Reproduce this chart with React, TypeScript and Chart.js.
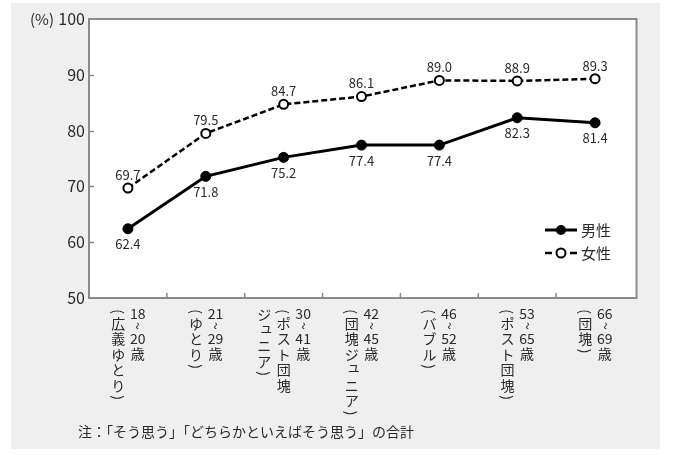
import React, { useEffect, useRef } from "react";
import { Chart, registerables } from "chart.js";

Chart.register(...registerables);

// ---- data ----
const ageLabels = ["18～20歳", "21～29歳", "30～41歳", "42～45歳", "46～52歳", "53～65歳", "66～69歳"];
const generationLabels = [
  ["（広義ゆとり）"],
  ["（ゆとり）"],
  ["（ポスト団塊", "ジュニア）"],
  ["（団塊ジュニア）"],
  ["（バブル）"],
  ["（ポスト団塊）"],
  ["（団塊）"],
];
const maleValues = [62.4, 71.8, 75.2, 77.4, 77.4, 82.3, 81.4];
const femaleValues = [69.7, 79.5, 84.7, 86.1, 89.0, 88.9, 89.3];
const seriesNames = ["男性", "女性"];
const yMin = 50;
const yMax = 100;
const yStep = 10;
const unitLabel = "(%)";
const footnote = "注：「そう思う」「どちらかといえばそう思う」の合計";

const FONT = "'Noto Sans CJK JP', 'Noto Sans', sans-serif";
const TEXT = "#2a2a2a";
const AXIS = "#8a8a8a";

const SMALL_KANA = "ァィゥェォャュョッぁぃぅぇぉゃゅょっ";

function drawVerticalColumn(ctx: CanvasRenderingContext2D, text: string, cx: number, top: number) {
  let y = top;
  const tokens = text.match(/[0-9]+|./gu) || [];
  ctx.save();
  ctx.fillStyle = TEXT;
  ctx.font = `14px ${FONT}`;
  ctx.textAlign = "center";
  ctx.textBaseline = "middle";
  for (const t of tokens) {
    if (/^[0-9]+$/.test(t)) {
      ctx.fillText(t, cx, y + 6.5);
      y += 13.5;
    } else if (t === "～") {
      ctx.save();
      ctx.translate(cx, y + 5.5);
      ctx.rotate(Math.PI / 2);
      ctx.fillText("~", 0, 0);
      ctx.restore();
      y += 11.5;
    } else if (t === "（" || t === "）") {
      ctx.save();
      ctx.translate(cx, y + 4.5);
      ctx.rotate(Math.PI / 2);
      ctx.fillText(t === "（" ? "(" : ")", 0, 0);
      ctx.restore();
      y += 8.5;
    } else {
      const small = SMALL_KANA.includes(t);
      ctx.fillText(t, cx + (small ? 2 : 0), y + 7.75 + (small ? -3 : 0));
      y += 15.5;
    }
  }
  ctx.restore();
}

const decor = {
  id: "decor",
  beforeDraw(chart: any) {
    const { ctx, chartArea, width, height } = chart;
    ctx.save();
    ctx.fillStyle = "#ffffff";
    ctx.fillRect(0, 0, width, height);
    ctx.fillStyle = "#efefef";
    ctx.fillRect(11, 3, 649, 446);
    ctx.fillStyle = "#ffffff";
    ctx.fillRect(chartArea.left, chartArea.top, chartArea.right + 2 - chartArea.left, chartArea.bottom - chartArea.top);
    ctx.restore();
  },
  afterDraw(chart: any) {
    const { ctx, chartArea } = chart;
    const xs = chart.scales.x;
    const ys = chart.scales.y;
    ctx.save();

    // frame
    ctx.strokeStyle = AXIS;
    ctx.lineWidth = 2;
    ctx.strokeRect(chartArea.left, chartArea.top, chartArea.right + 2.5 - chartArea.left, chartArea.bottom - chartArea.top);

    // inward y ticks
    ctx.lineWidth = 1.5;
    for (let v = yMin + yStep; v < yMax; v += yStep) {
      const y = Math.round(ys.getPixelForValue(v)) + 0.5;
      ctx.beginPath();
      ctx.moveTo(chartArea.left, y);
      ctx.lineTo(chartArea.left + 5, y);
      ctx.stroke();
    }
    // inward x ticks at category boundaries
    for (let i = 0; i < ageLabels.length - 1; i++) {
      const x = (xs.getPixelForValue(i) + xs.getPixelForValue(i + 1)) / 2;
      ctx.beginPath();
      ctx.moveTo(x, chartArea.bottom);
      ctx.lineTo(x, chartArea.bottom - 5);
      ctx.stroke();
    }

    // vertical category labels
    const colStep = 19.5;
    for (let i = 0; i < ageLabels.length; i++) {
      const cols = [ageLabels[i], ...generationLabels[i]];
      const cx = xs.getPixelForValue(i);
      const n = cols.length;
      cols.forEach((c, k) => {
        const x = cx + ((n - 1) / 2 - k) * colStep;
        drawVerticalColumn(ctx, c, x, chartArea.bottom + 9);
      });
    }

    // unit label
    ctx.fillStyle = TEXT;
    ctx.font = `15px ${FONT}`;
    ctx.textAlign = "right";
    ctx.textBaseline = "middle";
    ctx.fillText(unitLabel, 54, ys.getPixelForValue(yMax));

    // data labels
    ctx.font = `13px ${FONT}`;
    ctx.textAlign = "center";
    const mMeta = chart.getDatasetMeta(0);
    const fMeta = chart.getDatasetMeta(1);
    maleValues.forEach((v, i) => {
      const p = mMeta.data[i];
      ctx.fillText(v.toFixed(1), p.x, p.y + 15.5);
    });
    femaleValues.forEach((v, i) => {
      const p = fMeta.data[i];
      ctx.fillText(v.toFixed(1), p.x, p.y - 13);
    });

    // legend
    ctx.strokeStyle = "#000";
    ctx.fillStyle = "#000";
    ctx.lineWidth = 3;
    ctx.beginPath();
    ctx.moveTo(545, 230);
    ctx.lineTo(577, 230);
    ctx.stroke();
    ctx.beginPath();
    ctx.arc(561, 230, 5, 0, Math.PI * 2);
    ctx.fill();
    ctx.lineWidth = 2.5;
    ctx.beginPath();
    ctx.moveTo(545, 253);
    ctx.lineTo(552, 253);
    ctx.moveTo(570, 253);
    ctx.lineTo(577, 253);
    ctx.stroke();
    ctx.lineWidth = 2;
    ctx.fillStyle = "#fff";
    ctx.beginPath();
    ctx.arc(561, 253, 4.5, 0, Math.PI * 2);
    ctx.fill();
    ctx.stroke();
    ctx.fillStyle = TEXT;
    ctx.font = `15px ${FONT}`;
    ctx.textAlign = "left";
    ctx.fillText(seriesNames[0], 581, 230);
    ctx.fillText(seriesNames[1], 581, 253);

    // footnote
    ctx.font = `14px ${FONT}`;
    ctx.fillText(footnote, 78, 432);

    ctx.restore();
  },
};

export default function App() {
  const ref = useRef<HTMLCanvasElement | null>(null);
  useEffect(() => {
    if (!ref.current) return;
    const chart = new Chart(ref.current, {
      type: "line",
      data: {
        labels: ageLabels,
        datasets: [
          {
            label: seriesNames[0],
            data: maleValues,
            borderColor: "#000",
            backgroundColor: "#000",
            borderWidth: 3,
            pointRadius: 5,
            pointBackgroundColor: "#000",
            pointBorderColor: "#000",
            pointBorderWidth: 1,
            tension: 0,
          },
          {
            label: seriesNames[1],
            data: femaleValues,
            borderColor: "#000",
            backgroundColor: "#fff",
            borderWidth: 2.5,
            borderDash: [6, 3],
            pointRadius: 4.5,
            pointBackgroundColor: "#fff",
            pointBorderColor: "#000",
            pointBorderWidth: 2,
            tension: 0,
          },
        ],
      },
      options: {
        responsive: false,
        animation: false,
        layout: { padding: { left: 0, top: 19, right: 39, bottom: 0 } },
        plugins: { legend: { display: false }, tooltip: { enabled: false } },
        scales: {
          x: {
            type: "category",
            offset: true,
            grid: { display: false, drawTicks: false },
            border: { display: false },
            ticks: { display: false },
            afterFit: (s: any) => {
              s.height = 157;
            },
          },
          y: {
            min: yMin,
            max: yMax,
            ticks: { stepSize: yStep, color: TEXT, font: { size: 16, family: FONT }, padding: 4 },
            grid: { display: false, drawTicks: false },
            border: { display: false },
            afterFit: (s: any) => {
              s.width = 89;
            },
          },
        },
      },
      plugins: [decor],
    });
    return () => chart.destroy();
  }, []);
  return (
    <div style={{ position: "fixed", left: 0, top: 0, width: 673, height: 455 }}>
      <canvas ref={ref} width={673} height={455} style={{ display: "block" }} />
    </div>
  );
}
